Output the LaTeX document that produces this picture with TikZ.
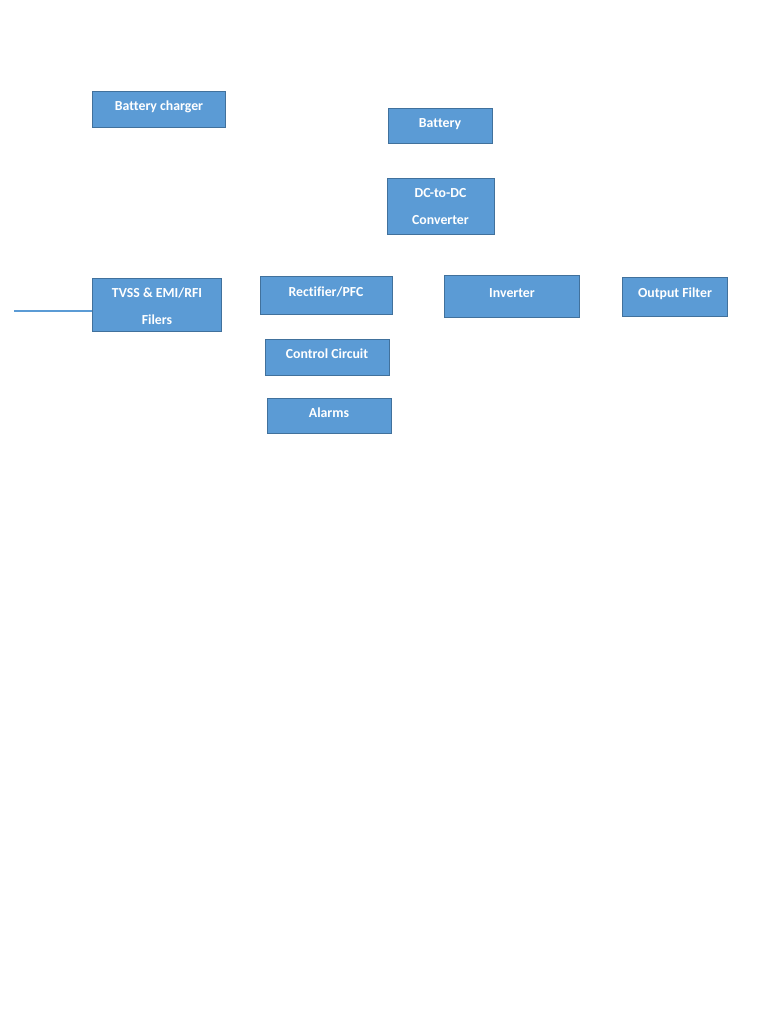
\documentclass[tikz,border=0pt]{standalone}
\usepackage{fontspec}
\setmainfont{Carlito}[Ligatures={NoCommon}]
\usetikzlibrary{calc}
\definecolor{boxfill}{HTML}{5B9BD5}
\definecolor{boxline}{HTML}{41719C}
\tikzset{
  box/.style={draw=boxline, fill=boxfill, line width=1.2pt, inner sep=0pt, anchor=north west},
  txt/.style={text=white, font=\bfseries\fontsize{13.8}{27}\selectfont, inner sep=0pt, align=center},
  wire/.style={draw=boxfill, line width=1.2pt}
}
\begin{document}
\begin{tikzpicture}[x=1pt,y=-1pt]
\useasboundingbox (0,0) rectangle (768,1024);
% boxes
\node[box, minimum width=133pt, minimum height=36pt] (bc) at (92,91) {};
\node[box, minimum width=104pt, minimum height=35pt] (bat) at (388,108) {};
\node[box, minimum width=107pt, minimum height=56pt] (dc) at (387,178) {};
\node[box, minimum width=129pt, minimum height=53pt] (tv) at (92,278) {};
\node[box, minimum width=132pt, minimum height=38pt] (rec) at (260,276) {};
\node[box, minimum width=135pt, minimum height=42pt] (inv) at (444,275) {};
\node[box, minimum width=105pt, minimum height=39pt] (of) at (622,277) {};
\node[box, minimum width=124pt, minimum height=36pt] (cc) at (265,339) {};
\node[box, minimum width=124pt, minimum height=35pt] (al) at (267,398) {};
% texts
\node[txt] (bct) at (159,107) {Battery charger};
\node[txt] (batt) at (440,124) {Battery};
\node[txt] (dct) at (440.5,206.5) {DC-to-DC\\Converter};
\node[txt] (tvt) at (157,306.5) {TVSS \& EMI/RFI\\Filers};
\node[txt] (rect) at (326,292) {Rectifier/PFC};
\node[txt] (invt) at (512,293) {Inverter};
\node[txt] (oft) at (675,294) {Output Filter};
\node[txt] (cct) at (327,354) {Control Circuit};
\node[txt] (alt) at (329,413) {Alarms};
% connector
\coordinate (in) at (14,311);
\draw[wire] (in) -- (tv.west |- in);
\end{tikzpicture}
\end{document}
